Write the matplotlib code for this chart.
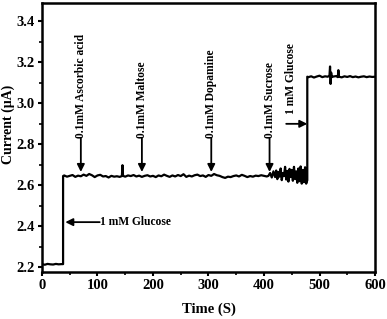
import matplotlib
matplotlib.use("Agg")
import matplotlib.pyplot as plt
from matplotlib.ticker import MultipleLocator

plt.rcParams["font.family"] = ["Liberation Serif", "DejaVu Serif"]
plt.rcParams["font.weight"] = "bold"

# baseline before glucose
t_base = [0, 5, 10, 15, 20, 25, 30, 35, 38]
i_base = [2.215, 2.212, 2.216, 2.214, 2.213, 2.216, 2.214, 2.215, 2.215]

# after first glucose addition
t_mid = [38, 40, 45, 50, 55, 60, 65, 70, 75, 80, 85, 90, 95, 100, 105, 110, 115,
         120, 125, 130, 135, 140, 144, 145, 146, 150, 155, 160, 165, 170, 175, 180,
         185, 190, 195, 200, 205, 210, 215, 220, 225, 230, 235, 240, 245, 250, 255,
         260, 265, 270, 275, 280, 285, 290, 295, 300, 305, 310, 315, 320, 325, 330,
         335, 340, 345, 350, 355, 360, 365, 370, 375, 380, 385, 390, 395, 400, 405]
i_mid = [2.645, 2.648, 2.642, 2.646, 2.650, 2.641, 2.647, 2.644, 2.652, 2.646, 2.655,
         2.649, 2.640, 2.648, 2.651, 2.643, 2.645, 2.638, 2.646, 2.642, 2.644, 2.641,
         2.645, 2.698, 2.646, 2.642, 2.648, 2.645, 2.650, 2.643, 2.647, 2.641, 2.646,
         2.649, 2.643, 2.646, 2.640, 2.648, 2.644, 2.652, 2.646, 2.641, 2.648, 2.643,
         2.650, 2.645, 2.654, 2.641, 2.647, 2.643, 2.649, 2.652, 2.645, 2.648, 2.641,
         2.650, 2.646, 2.655, 2.649, 2.646, 2.640, 2.636, 2.642, 2.640, 2.645, 2.648,
         2.643, 2.651, 2.646, 2.640, 2.645, 2.642, 2.647, 2.645, 2.649, 2.646, 2.643]

# noisier stretch after sucrose
t_noisy = [408, 411, 414, 417, 420, 422, 424, 426, 428, 430, 432, 434, 436, 438, 440,
           442, 444, 446, 448, 450, 452, 454, 456, 458, 460, 462, 464, 466, 468, 470,
           472, 474, 476, 478]
i_noisy = [2.646, 2.660, 2.638, 2.668, 2.640, 2.672, 2.630, 2.665, 2.642, 2.682,
           2.625, 2.660, 2.645, 2.690, 2.628, 2.670, 2.618, 2.680, 2.640, 2.675,
           2.622, 2.690, 2.630, 2.668, 2.612, 2.682, 2.620, 2.692, 2.608, 2.675,
           2.615, 2.688, 2.608, 2.625]

# after second glucose addition
t_top = [478, 480, 485, 490, 495, 500, 505, 510, 515, 518, 519, 520, 521, 522, 525,
         530, 533, 534, 535, 540, 545, 550, 555, 560, 565, 570, 575, 580, 585, 590,
         595, 600]
i_top = [3.130, 3.128, 3.132, 3.126, 3.131, 3.135, 3.128, 3.132, 3.130, 3.136, 3.180,
         3.095, 3.150, 3.128, 3.131, 3.133, 3.128, 3.162, 3.130, 3.127, 3.132, 3.129,
         3.133, 3.128, 3.131, 3.127, 3.130, 3.132, 3.128, 3.131, 3.129, 3.130]

interferents = ["0.1mM Ascorbic acid", "0.1mM Maltose", "0.1mM Dopamine", "0.1mM Sucrose"]
interferent_t = [70, 180, 305, 410]

time = t_base + t_mid + t_noisy + t_top
current = i_base + i_mid + i_noisy + i_top

fig = plt.figure(figsize=(3.87, 3.19), dpi=100)
ax = fig.add_axes([0.1085, 0.147, 0.8605, 0.8436])
ax.plot(time, current, color="black", linewidth=1.6)

ax.set_xlim(0, 600)
ax.set_ylim(2.176, 3.49)
ax.xaxis.set_major_locator(MultipleLocator(100))
ax.xaxis.set_minor_locator(MultipleLocator(50))
ax.yaxis.set_major_locator(MultipleLocator(0.2))
ax.yaxis.set_minor_locator(MultipleLocator(0.1))
ax.tick_params(which="major", direction="out", length=3, width=1.5, labelsize=10.5, pad=2)
ax.tick_params(which="minor", direction="out", length=2, width=1.2)
for side in ax.spines.values():
    side.set_linewidth(1.8)
ax.set_xlabel("Time (S)", fontsize=10.5, fontweight="bold")
ax.xaxis.set_label_coords(0.5, -0.112)
ax.set_ylabel("Current (\u03bcA)", fontsize=10, fontweight="bold")
ax.yaxis.set_label_coords(-0.082, 0.55)

arrow = dict(arrowstyle="-|>", color="black", lw=1.3, mutation_scale=11, shrinkA=0, shrinkB=0)
for name, t in zip(interferents, interferent_t):
    ax.annotate("", xy=(t, 2.665), xytext=(t, 2.83), arrowprops=arrow)
    ax.text(t, 2.832, name, rotation=90, ha="center", va="bottom",
            fontsize=8.3, fontweight="bold")

ax.annotate("", xy=(478, 2.90), xytext=(440, 2.90), arrowprops=arrow)
ax.text(449, 2.95, "1 mM Glucose", rotation=90, ha="center", va="bottom",
        fontsize=8.3, fontweight="bold")

ax.annotate("", xy=(42, 2.42), xytext=(104, 2.42), arrowprops=arrow)
ax.text(105, 2.42, "1 mM Glucose", ha="left", va="center", fontsize=8.3, fontweight="bold")

fig.savefig("out.png", dpi=100)
